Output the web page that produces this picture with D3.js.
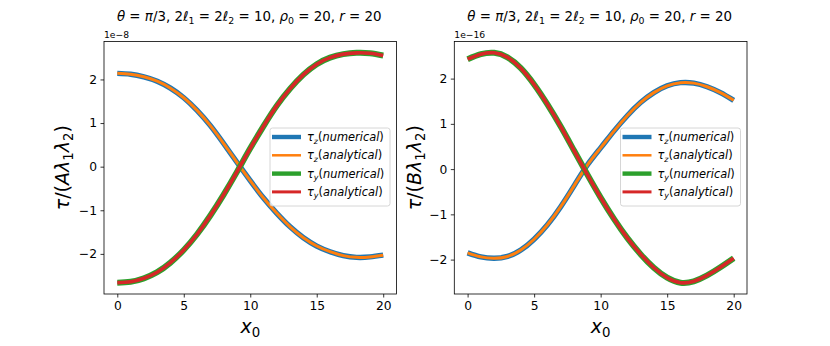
<!DOCTYPE html>
<html>
<head>
<meta charset="utf-8">
<script src="https://cdn.jsdelivr.net/npm/d3@7"></script>
<style>
  body { margin: 0; background: #fff; }
  svg { display: block; font-family: "DejaVu Sans", sans-serif; }
</style>
</head>
<body>
<svg id="chart" width="830" height="346"></svg>
<script>
// Données
const x0Values = [0, 1, 2, 3, 4, 5, 6, 7, 8, 9, 10, 11, 12, 13, 14, 15, 16, 17, 18, 19, 20];

// Panneau gauche (échelle 1e-8)
const leftTauZ = [2.14, 2.12, 2.06, 1.96, 1.80, 1.58, 1.29, 0.94, 0.53, 0.10, -0.32, -0.72, -1.07, -1.38, -1.63, -1.82, -1.95, -2.04, -2.08, -2.07, -2.03];
const leftTauY = [-2.66, -2.64, -2.56, -2.42, -2.20, -1.91, -1.55, -1.12, -0.64, -0.12, 0.42, 0.93, 1.40, 1.79, 2.11, 2.35, 2.50, 2.58, 2.61, 2.60, 2.55];

// Panneau droit (échelle 1e-16)
const rightTauZ = [-1.85, -1.94, -1.97, -1.93, -1.79, -1.55, -1.23, -0.83, -0.37, 0.09, 0.47, 0.84, 1.18, 1.47, 1.69, 1.84, 1.91, 1.90, 1.82, 1.69, 1.52];
const rightTauY = [2.43, 2.54, 2.57, 2.47, 2.23, 1.87, 1.43, 0.94, 0.41, -0.12, -0.63, -1.10, -1.52, -1.88, -2.18, -2.40, -2.51, -2.48, -2.35, -2.17, -1.97];

const xTicks = [0, 5, 10, 15, 20];
const yTicks = [-2, -1, 0, 1, 2];

const seriesStyles = [
  { key: 'zNum', color: '#1f77b4', width: 5.4, legendWidth: 4.4, label: [{ t: 'τ', i: 1 }, { t: 'z', i: 1, sub: 1 }, { t: '(' }, { t: 'numerical', i: 1 }, { t: ')' }] },
  { key: 'zAna', color: '#ff7f0e', width: 3, legendWidth: 2.5, label: [{ t: 'τ', i: 1 }, { t: 'z', i: 1, sub: 1 }, { t: '(' }, { t: 'analytical', i: 1 }, { t: ')' }] },
  { key: 'yNum', color: '#2ca02c', width: 6, legendWidth: 4.4, label: [{ t: 'τ', i: 1 }, { t: 'y', i: 1, sub: 1 }, { t: '(' }, { t: 'numerical', i: 1 }, { t: ')' }] },
  { key: 'yAna', color: '#d62728', width: 3.6, legendWidth: 3, label: [{ t: 'τ', i: 1 }, { t: 'y', i: 1, sub: 1 }, { t: '(' }, { t: 'analytical', i: 1 }, { t: ')' }] }
];

const titleParts = [
  { t: 'θ', i: 1 }, { t: ' = ' }, { t: 'π', i: 1 }, { t: '/3, 2' }, { t: 'ℓ', i: 1 }, { t: '1', sub: 1 },
  { t: ' = 2' }, { t: 'ℓ', i: 1 }, { t: '2', sub: 1 }, { t: ' = 10, ' }, { t: 'ρ', i: 1 }, { t: '0', sub: 1 },
  { t: ' = 20, ' }, { t: 'r', i: 1 }, { t: ' = 20' }
];

const panels = [
  {
    left: 104, right: 396.5, top: 41.5, bottom: 294,
    yDomain: [-2.92, 2.87], offset: '1e−8',
    ylabel: [{ t: 'τ', i: 1 }, { t: '/(' }, { t: 'A', i: 1 }, { t: 'λ', i: 1 }, { t: '1', sub: 1 }, { t: 'λ', i: 1 }, { t: '2', sub: 1 }, { t: ')' }],
    ylabelX: 63, tauZ: leftTauZ, tauY: leftTauY
  },
  {
    left: 454.3, right: 747, top: 41.5, bottom: 294,
    yDomain: [-2.76, 2.82], offset: '1e−16',
    ylabel: [{ t: 'τ', i: 1 }, { t: '/(' }, { t: 'B', i: 1 }, { t: 'λ', i: 1 }, { t: '1', sub: 1 }, { t: 'λ', i: 1 }, { t: '2', sub: 1 }, { t: ')' }],
    ylabelX: 415, tauZ: rightTauZ, tauY: rightTauY
  }
];

// Ajoute un texte "mathtext" : italique et indices via des tspans
function richText(textSel, parts, size) {
  let shifted = false;
  parts.forEach(p => {
    const ts = textSel.append('tspan').text(p.t);
    if (p.i) ts.attr('font-style', 'italic');
    if (p.sub) {
      ts.attr('font-size', size * 0.7).attr('dy', size * 0.22);
      shifted = true;
    } else if (shifted) {
      ts.attr('dy', -size * 0.22);
      shifted = false;
    }
  });
  return textSel;
}

const svg = d3.select('#chart');

panels.forEach(p => {
  const x = d3.scaleLinear().domain([-1, 21]).range([p.left, p.right]);
  const y = d3.scaleLinear().domain(p.yDomain).range([p.bottom, p.top]);
  const g = svg.append('g');

  const dataBySeries = {
    zNum: p.tauZ, zAna: p.tauZ, yNum: p.tauY, yAna: p.tauY
  };

  const line = d3.line()
    .x((d, i) => x(x0Values[i]))
    .y(d => y(d))
    .curve(d3.curveNatural);

  seriesStyles.forEach(s => {
    g.append('path')
      .attr('d', line(dataBySeries[s.key]))
      .attr('fill', 'none')
      .attr('stroke', s.color)
      .attr('stroke-width', s.width)
      .attr('stroke-linecap', 'butt')
      .attr('stroke-linejoin', 'round');
  });

  // Axes
  const xAxis = d3.axisBottom(x).tickValues(xTicks).tickSize(3.5).tickPadding(3.5)
    .tickFormat(d => String(d).replace('-', '−'));
  const yAxis = d3.axisLeft(y).tickValues(yTicks).tickSize(3.5).tickPadding(3.5)
    .tickFormat(d => String(d).replace('-', '−'));

  const gx = g.append('g').attr('transform', `translate(0,${p.bottom})`).call(xAxis);
  const gy = g.append('g').attr('transform', `translate(${p.left},0)`).call(yAxis);
  [gx, gy].forEach(a => {
    a.select('.domain').remove();
    a.selectAll('.tick line').attr('stroke', '#000').attr('stroke-width', 0.8);
    a.selectAll('.tick text').attr('font-family', 'DejaVu Sans').attr('font-size', 12.3).attr('fill', '#000');
  });

  // Cadre
  g.append('rect')
    .attr('x', p.left).attr('y', p.top)
    .attr('width', p.right - p.left).attr('height', p.bottom - p.top)
    .attr('fill', 'none').attr('stroke', '#000').attr('stroke-width', 0.8);

  // Texte de décalage
  g.append('text')
    .attr('x', p.left).attr('y', p.top - 4)
    .attr('font-size', 9.2)
    .text(p.offset);

  // Titre
  richText(g.append('text')
    .attr('x', (p.left + p.right) / 2 - 1).attr('y', 21)
    .attr('text-anchor', 'middle')
    .attr('font-size', 13.4), titleParts, 13.4);

  // Étiquette x
  richText(g.append('text')
    .attr('x', (p.left + p.right) / 2).attr('y', 333)
    .attr('text-anchor', 'middle')
    .attr('font-size', 19), [{ t: 'x', i: 1 }, { t: '0', sub: 1 }], 19);

  // Étiquette y
  richText(g.append('text')
    .attr('transform', `translate(${p.ylabelX + 6},${(p.top + p.bottom) / 2}) rotate(-90)`)
    .attr('text-anchor', 'middle')
    .attr('font-size', 19), p.ylabel, 19);

  // Légende
  const lx = p.right - 126.5, ly = 128;
  const leg = g.append('g').attr('transform', `translate(${lx},${ly})`);
  leg.append('rect')
    .attr('width', 120).attr('height', 78)
    .attr('rx', 2.5)
    .attr('fill', 'rgba(255,255,255,0.8)')
    .attr('stroke', '#cccccc').attr('stroke-width', 0.8);
  seriesStyles.forEach((s, i) => {
    const ry = 9 + i * 18.3;
    leg.append('line')
      .attr('x1', 2).attr('x2', 31).attr('y1', ry).attr('y2', ry)
      .attr('stroke', s.color).attr('stroke-width', s.legendWidth);
    richText(leg.append('text')
      .attr('x', 37).attr('y', ry + 4)
      .attr('font-size', 11.4), s.label, 11.4);
  });
});
</script>
</body>
</html>
